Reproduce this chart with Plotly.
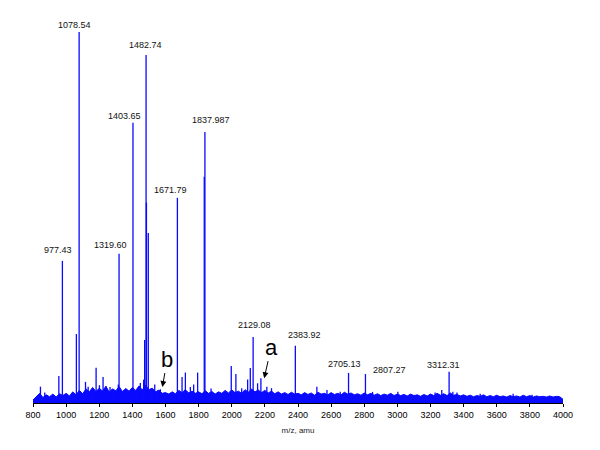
import plotly.graph_objects as go

# ---------------- data ----------------
# labelled peaks: m/z, relative intensity (% of base peak)
label_mz = [977.43, 1078.54, 1319.60, 1403.65, 1482.74, 1671.79, 1837.987,
            2129.08, 2383.92, 2705.13, 2807.27, 3312.31]
label_int = [38.3, 100.0, 40.2, 75.5, 93.8, 55.3, 73.0, 17.8, 15.4, 8.1, 7.8, 8.4]
label_text = ["977.43", "1078.54", "1319.60", "1403.65", "1482.74", "1671.79",
              "1837.987", "2129.08", "2383.92", "2705.13", "2807.27", "3312.31"]

# unlabelled peaks
minor_mz = [845, 871, 956, 1062, 1117, 1133, 1181, 1201, 1223, 1240, 1265, 1315,
            1448, 1468, 1474, 1485, 1496, 1535, 1569, 1700, 1720, 1750, 1770,
            1794, 1834, 1875, 1997, 2025, 2060, 2096, 2112, 2156, 2176, 2212,
            2240, 2514, 2575, 2655, 2850, 3003, 3228, 3268, 3335, 3360, 3500,
            3699, 3813]
minor_int = [4.4, 2.8, 7.3, 18.6, 5.7, 4.4, 9.5, 4.8, 7.0, 4.5, 4.3, 5.0,
             5.4, 6.3, 17.0, 54.0, 45.8, 5.0, 3.7, 7.0, 8.2, 4.3, 5.0,
             8.2, 61.0, 3.9, 10.0, 7.8, 4.0, 6.3, 9.4, 5.3, 6.7, 4.4,
             4.0, 4.4, 3.5, 3.0, 3.0, 3.0, 2.8, 3.5, 3.0, 2.8, 2.5,
             2.5, 2.2]

# baseline noise envelope, one value every 20 amu from 800 to 4000
noise_start, noise_step = 800, 20
noise_int = [
    0.8, 1.8, 2.6, 1.5, 2.2, 1.7, 2.4, 1.6, 2.5, 2.0,
    2.6, 1.9, 3.0, 2.2, 3.4, 2.5, 3.8, 3.0, 4.2, 3.1,
    4.0, 3.2, 4.5, 3.0, 3.8, 3.3, 4.4, 3.1, 3.9, 3.2,
    4.2, 3.4, 4.6, 3.5, 4.8, 3.6, 4.0, 3.0, 3.5, 2.6,
    2.8, 2.4, 3.0, 2.5, 3.4, 2.8, 3.6, 2.7, 3.2, 2.6,
    3.0, 2.5, 3.3, 2.6, 3.1, 2.4, 3.0, 2.6, 3.4, 2.7,
    3.5, 2.8, 3.2, 2.6, 3.6, 2.9, 3.8, 3.0, 3.5, 2.8,
    3.4, 2.7, 3.2, 2.5, 3.0, 2.4, 2.8, 2.3, 2.9, 2.4,
    2.6, 2.2, 2.8, 2.3, 2.7, 2.1, 2.9, 2.4, 2.6, 2.2,
    2.8, 2.3, 2.6, 2.2, 2.9, 2.4, 2.7, 2.2, 2.5, 2.1,
    2.7, 2.2, 2.6, 2.1, 2.5, 2.0, 2.4, 2.1, 2.6, 2.0,
    2.4, 2.0, 2.3, 1.9, 2.4, 2.0, 2.2, 1.8, 2.3, 1.9,
    2.4, 2.0, 2.6, 2.1, 2.5, 2.0, 2.7, 2.1, 2.3, 1.9,
    2.2, 1.8, 2.1, 1.7, 2.0, 1.8, 2.2, 1.7, 2.0, 1.7,
    2.1, 1.7, 1.9, 1.6, 2.0, 1.7, 1.9, 1.6, 2.1, 1.7,
    2.0, 1.6, 1.9, 1.7, 1.8, 1.6, 1.9, 1.6, 1.8, 1.7,
    1.0,
]
noise_mz = [noise_start + noise_step * i for i in range(len(noise_int))]

# arrow markers "a" and "b": letter, m/z and intensity of arrow tip
arrow_text = ["b", "a"]
arrow_mz = [1581, 2196]
arrow_int = [4.3, 6.7]

x_ticks = list(range(800, 4001, 200))

# ---------------- figure ----------------
BLUE = "#0a0aff"
FONT = "Arial, Liberation Sans, sans-serif"

fig = go.Figure()

fig.add_trace(go.Scatter(
    x=noise_mz, y=noise_int, mode="lines", fill="tozeroy",
    line=dict(color=BLUE, width=1), fillcolor=BLUE, hoverinfo="skip",
    showlegend=False))

stick_x, stick_y = [], []
for m, v in zip(minor_mz + label_mz, minor_int + label_int):
    stick_x += [m, m, None]
    stick_y += [0, v, None]
fig.add_trace(go.Scatter(
    x=stick_x, y=stick_y, mode="lines",
    line=dict(color=BLUE, width=1.3), showlegend=False))

label_dx = [-4, -5, -9, -8, -1, -7, 6, 1, 9, -4, 24, -6]
label_dy = [11, 7, 9, 7, 10, 8, 12, 12, 11, 9, 4, 7]
for m, v, t, dx, dy in zip(label_mz, label_int, label_text, label_dx, label_dy):
    fig.add_annotation(x=m, y=v, text=t, showarrow=False, xshift=dx, yshift=dy,
                       yanchor="middle", font=dict(family=FONT, size=9, color="#111"))

arrow_ax = [5, 7]
arrow_ay = [-28, -31]
for t, m, v, ax, ay in zip(arrow_text, arrow_mz, arrow_int, arrow_ax, arrow_ay):
    fig.add_annotation(x=m, y=v, text=t, showarrow=True, ax=ax, ay=ay,
                       arrowhead=2, arrowsize=1.2, arrowwidth=1, arrowcolor="black",
                       font=dict(family=FONT, size=22, color="black"))

# the page body adds an 8 px offset, so margins are compensated for it
fig.update_layout(
    width=600, height=450,
    margin=dict(l=24.5, r=45, t=5, b=55),
    paper_bgcolor="white", plot_bgcolor="white",
    font=dict(family=FONT, size=9, color="black"),
    xaxis=dict(range=[800, 4000], tickvals=x_ticks, ticktext=[str(v) for v in x_ticks],
               showline=True, linecolor="black", linewidth=1, ticks="outside",
               ticklen=3, tickcolor="black", showgrid=False, zeroline=False,
               tickfont=dict(family=FONT, size=9, color="black"),
               title=dict(text="m/z, amu", font=dict(family=FONT, size=8, color="#222"),
                          standoff=8)),
    yaxis=dict(range=[0, 105.1], visible=False, showgrid=False, zeroline=False),
)

fig.write_html("out.html")
